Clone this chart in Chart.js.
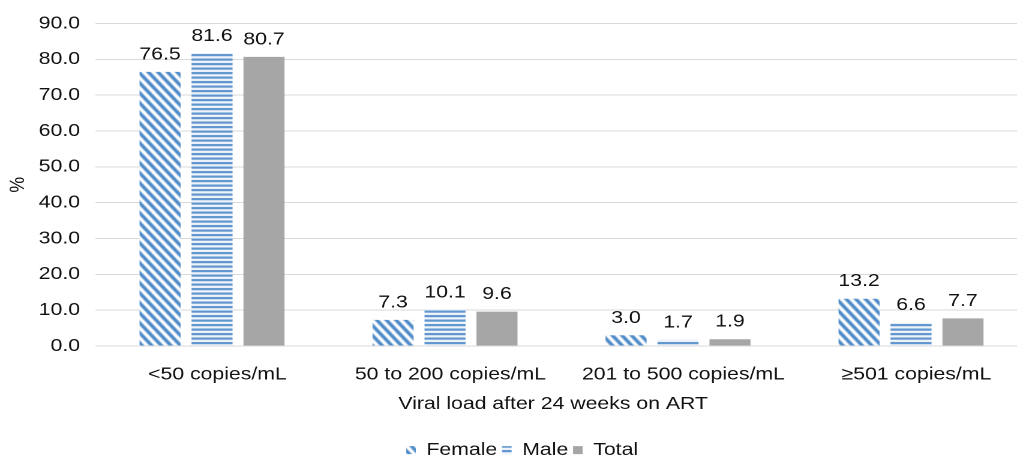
<!DOCTYPE html>
<html>
<head>
<meta charset="utf-8">
<script src="https://cdn.jsdelivr.net/npm/chart.js@4/dist/chart.umd.min.js"></script>
<style>
  html, body { margin: 0; padding: 0; background: #ffffff; overflow: hidden; }
  #frame { width: 1017px; height: 461px; overflow: hidden; position: relative; }
  #chart { position: absolute; left: 0; top: 0; transform: scaleX(1.2); transform-origin: 0 0; }
</style>
</head>
<body>
<div id="frame">
  <canvas id="chart" width="860" height="469" style="width:860px;height:469px;"></canvas>
</div>
<script>
// Share of patients by viral load band after 24 weeks on ART
const categories = ['<50 copies/mL', '50 to 200 copies/mL', '201 to 500 copies/mL', '\u2265501 copies/mL'];
const femaleValues = [76.5, 7.3, 3.0, 13.2];
const maleValues = [81.6, 10.1, 1.7, 6.6];
const totalValues = [80.7, 9.6, 1.9, 7.7];
const seriesNames = ['Female', 'Male', 'Total'];
const yAxisTitle = '%';
const xAxisTitle = 'Viral load after 24 weeks on ART';

const FONT = 'Liberation Sans, Arial, Helvetica, sans-serif';
const FONT_SIZE = 17.7;
const TEXT = '#111111';
const BLUE = '#4f8bc9';
const GREY = '#a6a6a6';

// Diagonal "\" hatching
function diagonalPattern() {
  const w = 8, h = 10, sw = 4;
  const c = document.createElement('canvas');
  c.width = w; c.height = h;
  const g = c.getContext('2d');
  g.fillStyle = '#ffffff';
  g.fillRect(0, 0, w, h);
  g.fillStyle = BLUE;
  for (const a of [-w, 0, w]) {
    g.beginPath();
    g.moveTo(a, 0);
    g.lineTo(a + sw, 0);
    g.lineTo(a + sw + w, h);
    g.lineTo(a + w, h);
    g.closePath();
    g.fill();
  }
  return g.createPattern(c, 'repeat');
}

// Horizontal hatching
function horizontalPattern() {
  const w = 4, h = 9;
  const c = document.createElement('canvas');
  c.width = w; c.height = h;
  const g = c.getContext('2d');
  g.fillStyle = '#ffffff';
  g.fillRect(0, 0, w, h);
  g.fillStyle = BLUE;
  g.fillRect(0, 0, w, 2.2);
  g.fillRect(0, 4.5, w, 2.2);
  return g.createPattern(c, 'repeat');
}

const ctx = document.getElementById('chart').getContext('2d');
const femaleFill = diagonalPattern();
const maleFill = horizontalPattern();

// Value labels above each bar
const valueLabels = {
  id: 'valueLabels',
  afterDatasetsDraw(chart) {
    const c = chart.ctx;
    c.save();
    c.font = FONT_SIZE + 'px ' + FONT;
    c.fillStyle = TEXT;
    c.textAlign = 'center';
    c.textBaseline = 'alphabetic';
    chart.data.datasets.forEach((ds, di) => {
      const meta = chart.getDatasetMeta(di);
      meta.data.forEach((bar, i) => {
        c.fillText(ds.data[i].toFixed(1), bar.x, bar.y - 12.5);
      });
    });
    c.restore();
  }
};

// Axis titles
const axisTitles = {
  id: 'axisTitles',
  afterDraw(chart) {
    const c = chart.ctx;
    const a = chart.chartArea;
    c.save();
    c.font = FONT_SIZE + 'px ' + FONT;
    c.fillStyle = TEXT;
    c.textAlign = 'center';
    c.textBaseline = 'alphabetic';
    c.fillText(xAxisTitle, (a.left + a.right) / 2 - 7, a.bottom + 63);
    c.translate(15, (a.top + a.bottom) / 2);
    c.rotate(-Math.PI / 2);
    c.textBaseline = 'middle';
    c.fillText(yAxisTitle, 0, 0);
    c.restore();
  }
};

new Chart(ctx, {
  type: 'bar',
  data: {
    labels: categories,
    datasets: [
      { label: seriesNames[0], data: femaleValues, backgroundColor: femaleFill, borderWidth: 0 },
      { label: seriesNames[1], data: maleValues, backgroundColor: maleFill, borderWidth: 0 },
      { label: seriesNames[2], data: totalValues, backgroundColor: GREY, borderWidth: 0 }
    ]
  },
  options: {
    responsive: false,
    devicePixelRatio: 2,
    animation: false,
    events: [],
    categoryPercentage: 0.669,
    barPercentage: 0.79,
    layout: { padding: { top: 19, left: 14, right: 3.75, bottom: 0 } },
    font: { family: FONT, size: FONT_SIZE },
    color: TEXT,
    plugins: {
      tooltip: { enabled: false },
      legend: {
        position: 'bottom',
        labels: {
          boxWidth: 8,
          boxHeight: 8,
          padding: 4,
          color: TEXT,
          font: { family: FONT, size: FONT_SIZE }
        }
      }
    },
    scales: {
      x: {
        grid: { display: false, drawTicks: false },
        border: { display: false },
        ticks: {
          color: TEXT,
          padding: 18,
          labelOffset: 4.5,
          maxRotation: 0,
          autoSkip: false,
          font: { family: FONT, size: FONT_SIZE }
        },
        afterFit(scale) { scale.height = 91.3; }
      },
      y: {
        min: 0,
        max: 90,
        grid: { color: '#d9d9d9', lineWidth: 1, drawTicks: false },
        border: { display: false },
        ticks: {
          stepSize: 10,
          color: TEXT,
          padding: 12.9,
          font: { family: FONT, size: FONT_SIZE },
          callback: (v) => Number(v).toFixed(1)
        },
        afterFit(scale) { scale.width = 65.6; }
      }
    }
  },
  plugins: [valueLabels, axisTitles]
});
</script>
</body>
</html>
